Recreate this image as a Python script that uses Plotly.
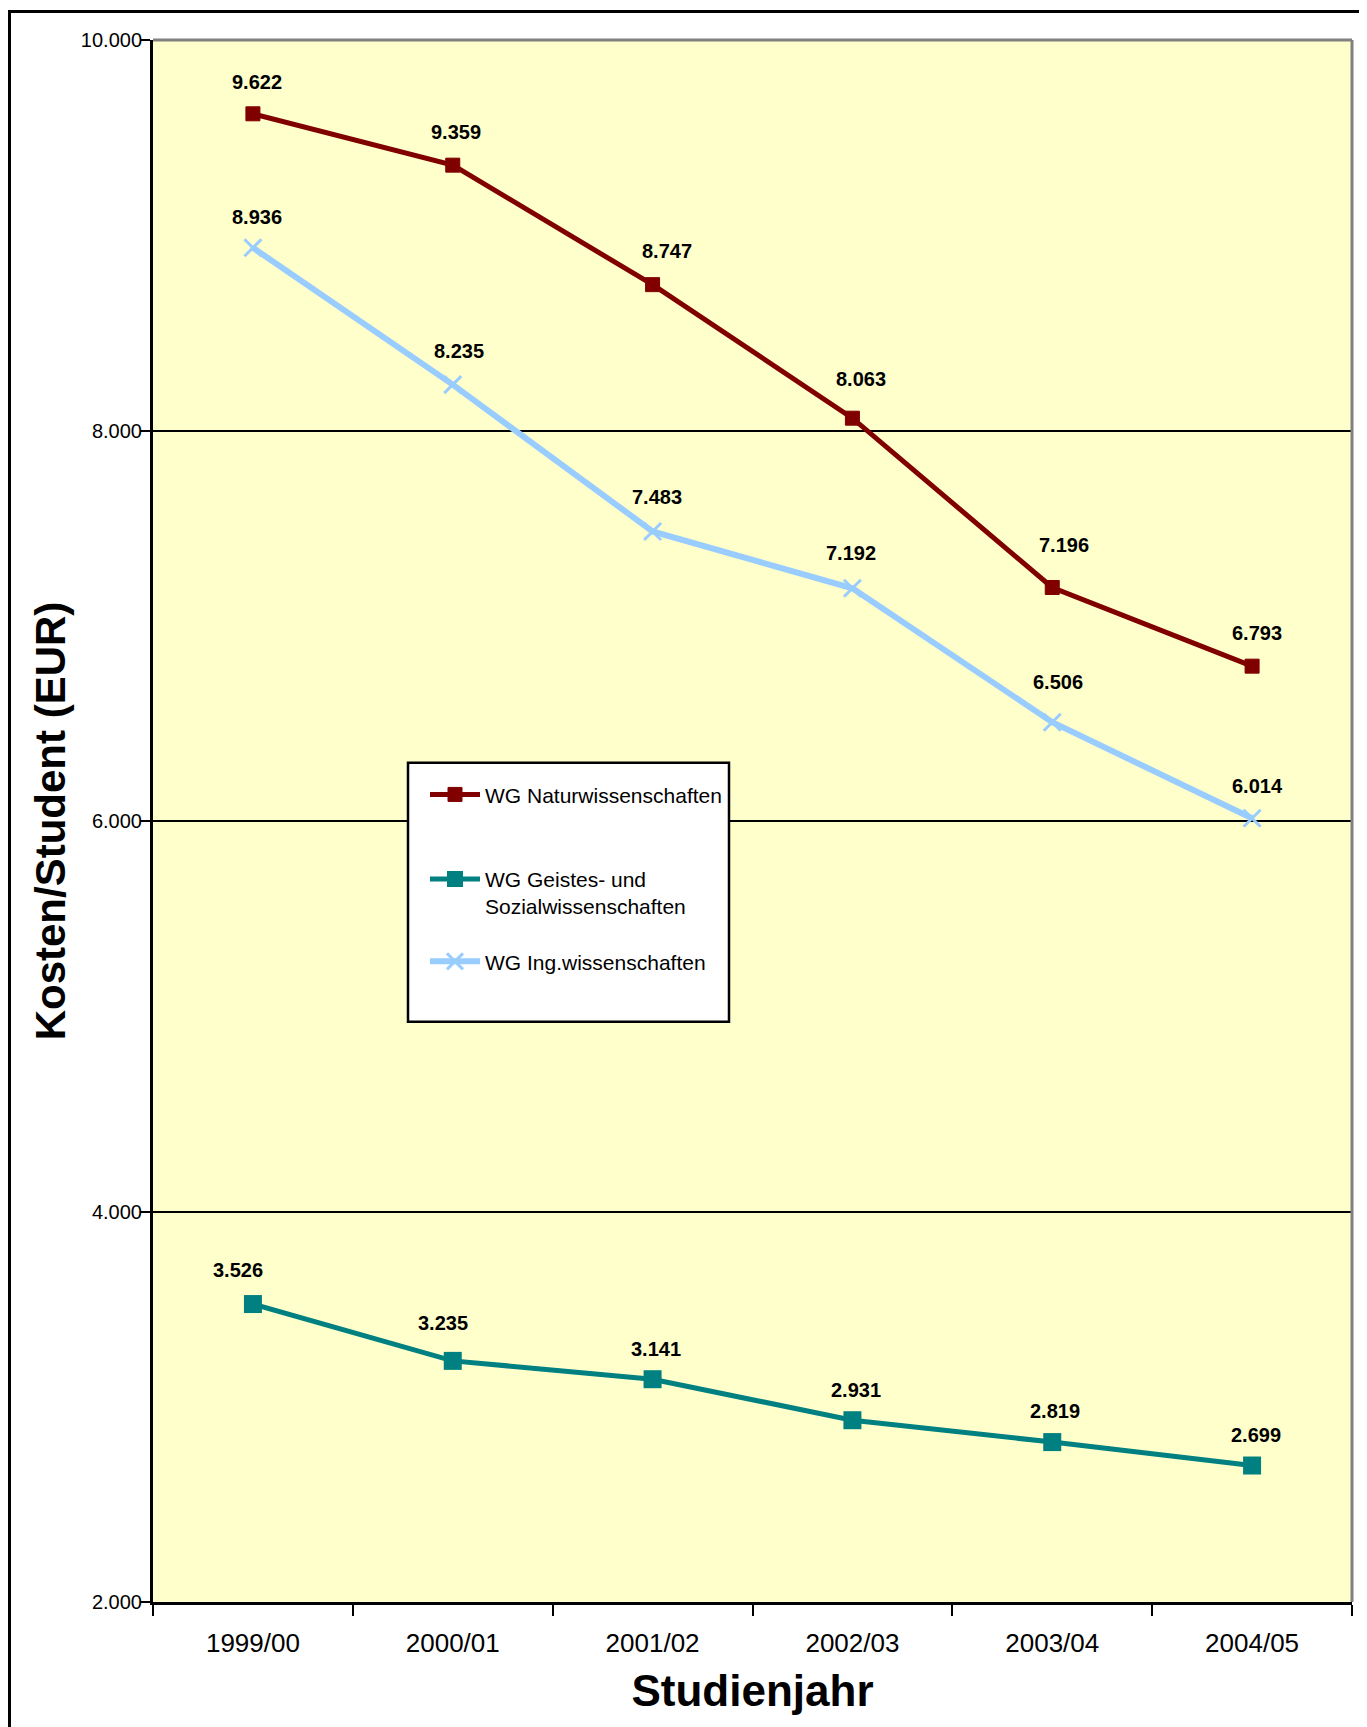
import plotly.graph_objects as go

# ---------------- data ----------------
categories = ["1999/00", "2000/01", "2001/02", "2002/03", "2003/04", "2004/05"]
natur = [9622, 9359, 8747, 8063, 7196, 6793]
geistes = [3526, 3235, 3141, 2931, 2819, 2699]
ing = [8936, 8235, 7483, 7192, 6506, 6014]
y_tickvals = [2000, 4000, 6000, 8000, 10000]
y_ticktext = ["2.000", "4.000", "6.000", "8.000", "10.000"]

series_names = ["WG Naturwissenschaften",
                "WG Geistes- und<br>Sozialwissenschaften",
                "WG Ing.wissenschaften"]

# label nudges in px (dx right, dy up) relative to the point
label_nudge = {
    "natur":   ([4, 3, 14, 9, 12, 5], [32, 33, 34, 39, 42, 33]),
    "ing":     ([4, 6, 4, -1, 6, 5], [31, 34, 34, 35, 40, 32]),
    "geistes": ([-15, -10, 3, 4, 3, 4], [34, 38, 30, 30, 31, 31]),
}

FONT = "Liberation Sans, Arial, sans-serif"
MAROON = "#800000"
TEAL = "#008080"
LIGHTBLUE = "#99CCFF"


def fmt(v):
    return f"{v:,}".replace(",", ".")


fig = go.Figure()

fig.add_trace(go.Scatter(
    x=categories, y=natur, name=series_names[0], mode="lines+markers",
    line=dict(color=MAROON, width=5),
    marker=dict(symbol="square", size=14, color=MAROON,
                line=dict(color=MAROON, width=1)),
    legend="legend",
))
fig.add_trace(go.Scatter(
    x=categories, y=geistes, name=series_names[1], mode="lines+markers",
    line=dict(color=TEAL, width=5),
    marker=dict(symbol="square", size=18, color=TEAL,
                line=dict(color=TEAL, width=0)),
    legend="legend2",
))
fig.add_trace(go.Scatter(
    x=categories, y=ing, name=series_names[2], mode="lines+markers",
    line=dict(color=LIGHTBLUE, width=6),
    marker=dict(symbol="x-thin", size=17, color=LIGHTBLUE,
                line=dict(color=LIGHTBLUE, width=3)),
    legend="legend3",
))

annotations = []
for key, vals in (("natur", natur), ("ing", ing), ("geistes", geistes)):
    dxs, dys = label_nudge[key]
    for c, v, dx, dy in zip(categories, vals, dxs, dys):
        annotations.append(dict(
            x=c, y=v, xref="x", yref="y", text=fmt(v), showarrow=False,
            xshift=dx, yshift=dy,
            font=dict(family=FONT, size=20, color="black", weight="bold"),
        ))

# page body has an 8px margin; work in screen px and convert
OFF = 8
W, H = 1367 - OFF, 1727 - OFF
PL, PR, PT, PB = 153, 1352, 40, 1602.5        # plot area on screen
L, T = PL - OFF, PT - OFF
R, B = W - (PR - OFF), H - (PB - OFF)
pw, ph = W - L - R, H - T - B


def px_x(p):
    return (p - PL) / pw


def px_y(p):
    return (PB - p) / ph


shapes = [
    # outer chart frame (only top and left edges are visible)
    dict(type="line", xref="paper", yref="paper",
         x0=px_x(9.5), x1=px_x(1400), y0=px_y(11.5), y1=px_y(11.5),
         line=dict(color="black", width=3), layer="above"),
    dict(type="line", xref="paper", yref="paper",
         x0=px_x(9.5), x1=px_x(9.5), y0=px_y(1760), y1=px_y(10),
         line=dict(color="black", width=3), layer="above"),
    # grey plot-area border top & right
    dict(type="line", xref="paper", yref="paper", x0=0, x1=1, y0=1, y1=1,
         line=dict(color="#808080", width=3), layer="above"),
    dict(type="line", xref="paper", yref="paper", x0=1, x1=1, y0=0, y1=1,
         line=dict(color="#808080", width=3), layer="above"),
    # legend box
    dict(type="rect", xref="paper", yref="paper",
         x0=px_x(408), x1=px_x(729), y0=px_y(1022), y1=px_y(763),
         line=dict(color="black", width=2.5), fillcolor="white",
         layer="above"),
]

leg_common = dict(
    bgcolor="rgba(0,0,0,0)", borderwidth=0, xanchor="left", yanchor="middle",
    font=dict(family=FONT, size=21, color="black"), itemwidth=50,
)

fig.update_layout(
    width=W, height=H,
    margin=dict(l=L, r=R, t=T, b=B, pad=0),
    paper_bgcolor="white",
    plot_bgcolor="#FFFFCC",
    font=dict(family=FONT, color="black"),
    showlegend=True,
    legend=dict(x=px_x(425), y=px_y(795), **leg_common),
    legend2=dict(x=px_x(425), y=px_y(893), valign="top", **leg_common),
    legend3=dict(x=px_x(425), y=px_y(962), **leg_common),
    annotations=annotations,
    shapes=shapes,
    xaxis=dict(
        type="category", range=[-0.5, 5.5],
        showline=True, linecolor="black", linewidth=3,
        ticks="outside", tickson="boundaries", ticklen=11, tickwidth=2,
        tickcolor="black", showgrid=False,
        tickfont=dict(family=FONT, size=26, color="black"),
        ticklabelstandoff=16,
        title=dict(text="Studienjahr", standoff=18,
                   font=dict(family=FONT, size=44, color="black",
                             weight="bold")),
    ),
    yaxis=dict(
        range=[2000, 10000],
        tickvals=y_tickvals, ticktext=y_ticktext,
        showline=True, linecolor="black", linewidth=3,
        ticks="outside", ticklen=10, tickwidth=2, tickcolor="black",
        showgrid=True, gridcolor="black", gridwidth=2, zeroline=False,
        tickfont=dict(family=FONT, size=20, color="black"),
        ticklabelstandoff=-6,
        title=dict(text="Kosten/Student (EUR)", standoff=3,
                   font=dict(family=FONT, size=42, color="black",
                             weight="bold")),
    ),
)

fig.write_html("out.html")
